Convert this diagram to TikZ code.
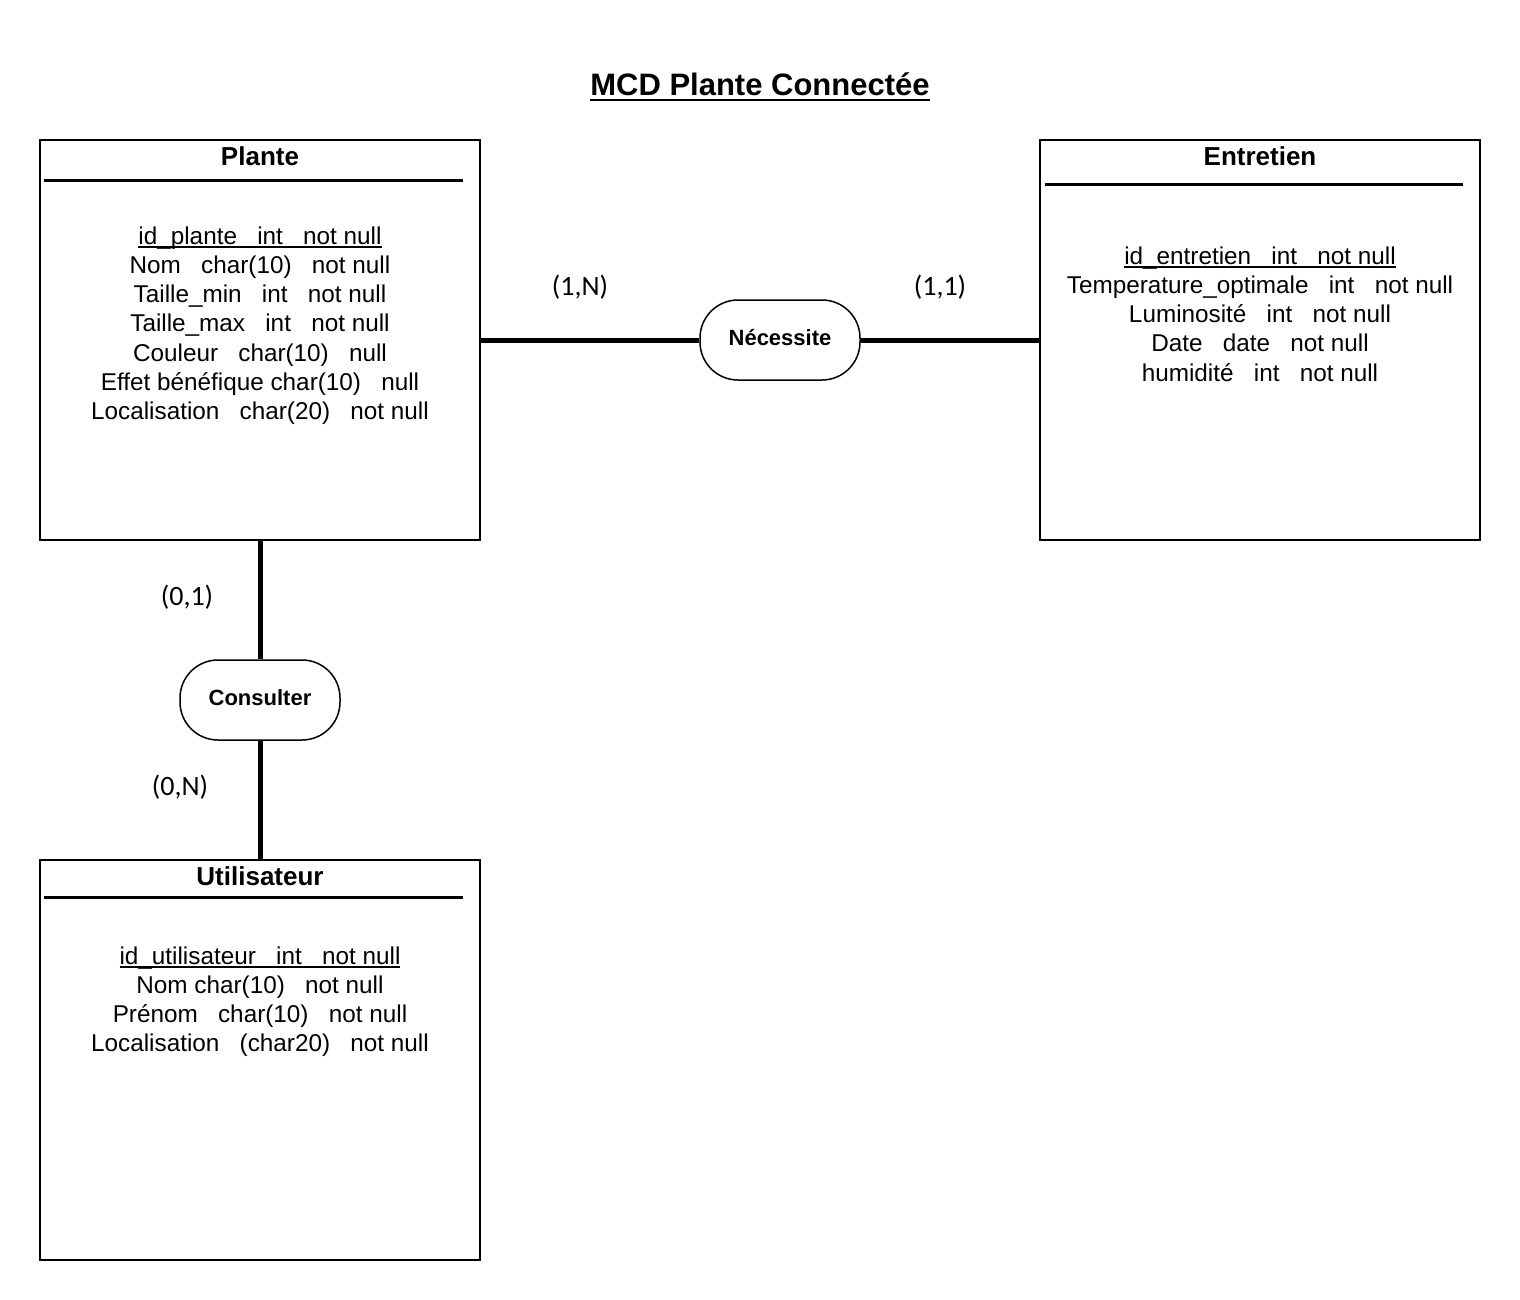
\documentclass[tikz,border=0pt]{standalone}
\usepackage{fontspec}
\setmainfont{Liberation Sans}
\newfontfamily\cardfont{Carlito}
\newcommand\ulattr[1]{\setbox0\hbox{#1}\rlap{\rule[-4pt]{\wd0}{1.8pt}}\box0}
\newcommand\ultitle[1]{\setbox0\hbox{#1}\rlap{\rule[-5.5pt]{\wd0}{2.6pt}}\box0}
\begin{document}
\begin{tikzpicture}[x=1pt,y=-1pt,
  ent/.style={draw,line width=2pt,minimum width=440pt,minimum height=400pt,inner sep=0pt},
  hdr/.style={anchor=base,font=\fontsize{26}{30}\selectfont\bfseries,inner sep=0pt},
  sepline/.style={line width=3pt},
  attr/.style={anchor=base,font=\fontsize{24.3}{29}\selectfont,inner sep=0pt},
  rel/.style={draw,line width=1.5pt,rounded corners=38pt,minimum width=160pt,minimum height=80pt,font=\fontsize{22}{26}\selectfont\bfseries,inner sep=0pt,text height=16pt,text depth=5pt},
  link/.style={line width=5pt},
  card/.style={font=\cardfont\fontsize{28}{32}\selectfont,inner sep=0pt}]
\useasboundingbox[fill=white] (0,0) rectangle (1520,1300);

% title
\node[anchor=base,font=\fontsize{31}{36}\selectfont\bfseries,inner sep=0pt] (title) at (760,96) {\ultitle{MCD Plante Connectée}};

% entity boxes
\node[ent] (plante) at (260,340) {};
\node[ent] (entretien) at (1260,340) {};
\node[ent] (util) at (260,1060) {};

% headers
\node[hdr] (plante-h) at (260,166) {Plante};
\node[hdr] (entretien-h) at (1260,166) {Entretien};
\node[hdr] (util-h) at (260,885) {Utilisateur};
\draw[sepline] (44,181) -- (463,181);
\draw[sepline] (1045,185) -- (1463,185);
\draw[sepline] (44,897) -- (463,897);

% attributes Plante
\node[attr] (pa1) at (260,244) {\ulattr{id\_plante~~~int~~~not null}};
\node[attr] (pa2) at (260,273.3) {Nom~~~char(10)~~~not null};
\node[attr] (pa3) at (260,302.6) {Taille\_min~~~int~~~not null};
\node[attr] (pa4) at (260,331.9) {Taille\_max~~~int~~~not null};
\node[attr] (pa5) at (260,361.2) {Couleur~~~char(10)~~~null};
\node[attr] (pa6) at (260,390.5) {Effet bénéfique char(10)~~~null};
\node[attr] (pa7) at (260,419.8) {Localisation~~~char(20)~~~not null};

% attributes Entretien
\node[attr] (ea1) at (1260,264) {\ulattr{id\_entretien~~~int~~~not null}};
\node[attr] (ea2) at (1260,293.3) {Temperature\_optimale~~~int~~~not null};
\node[attr] (ea3) at (1260,322.6) {Luminosité~~~int~~~not null};
\node[attr] (ea4) at (1260,351.9) {Date~~~date~~~not null};
\node[attr] (ea5) at (1260,381.2) {humidité~~~int~~~not null};

% attributes Utilisateur
\node[attr] (ua1) at (260,964) {\ulattr{id\_utilisateur~~~int~~~not null}};
\node[attr] (ua2) at (260,993.3) {Nom char(10)~~~not null};
\node[attr] (ua3) at (260,1022.6) {Prénom~~~char(10)~~~not null};
\node[attr] (ua4) at (260,1051.9) {Localisation~~~(char20)~~~not null};

% relationships
\node[rel] (nec) at (780,340) {Nécessite};
\node[rel] (cons) at (260,700) {Consulter};

% links
\draw[link] (plante.east) -- (nec.west);
\draw[link] (nec.east) -- (entretien.west);
\draw[link] (plante.south) -- (cons.north);
\draw[link] (cons.south) -- (util.north);

% cardinalities
\node[card] (c1) at (580,287) {(1,N)};
\node[card] (c2) at (940,287) {(1,1)};
\node[card] (c3) at (187,597) {(0,1)};
\node[card] (c4) at (180,787) {(0,N)};
\end{tikzpicture}
\end{document}
